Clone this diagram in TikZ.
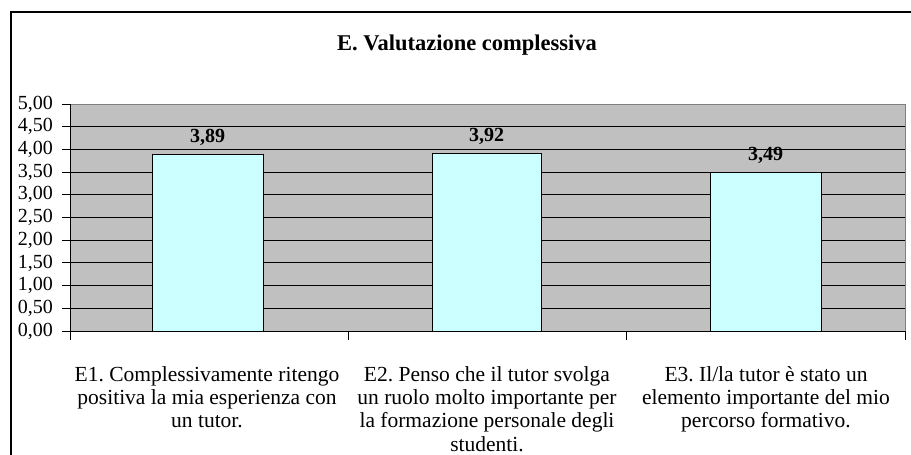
\documentclass[tikz,border=0pt]{standalone}
\usepackage{fontspec}
\setmainfont{Liberation Serif}
\frenchspacing
\definecolor{barcyan}{RGB}{204,255,255}
\definecolor{plotgray}{RGB}{192,192,192}
\definecolor{bordergray}{RGB}{128,128,128}
\begin{document}
\begin{tikzpicture}[x=1pt,y=-1pt,
  frame/.style={black, line width=2pt},
  bar/.style={draw=black, line width=0.9pt, fill=barcyan},
  gridline/.style={black, line width=1pt},
  axisline/.style={black, line width=1pt},
  ticklbl/.style={anchor=east, font=\fontsize{20}{22}\selectfont, inner sep=0pt},
  vallbl/.style={anchor=base, font=\bfseries\fontsize{20}{22}\selectfont, inner sep=0pt},
  catlbl/.style={anchor=north, align=center, font=\fontsize{21.5}{23.3}\selectfont, inner sep=0pt},
  titlelbl/.style={font=\bfseries\fontsize{22.5}{25}\selectfont, inner sep=0pt}
]
\useasboundingbox (0,0) rectangle (911,455);
\clip (0,0) rectangle (911,455);
\fill[white] (0,0) rectangle (911,455);
% chart frame
\draw[frame] (11,470) -- (11,12) -- (930,12);
% title
\node[titlelbl] (title) at (467,45) {E. Valutazione complessiva};
% plot area
\fill[plotgray] (70,104) rectangle (905,331);
\foreach \k in {1,...,9}
  \draw[gridline] (70,{331-\k*22.7}) -- (905,{331-\k*22.7});
\draw[bordergray, line width=1pt] (70,104) -- (905,104) -- (905,331);
% axes
\draw[axisline] (70,104) -- (70,340);
\draw[axisline] (70,331) -- (905,331);
\foreach \k/\t in {0/{0,00},1/{0,50},2/{1,00},3/{1,50},4/{2,00},5/{2,50},6/{3,00},7/{3,50},8/{4,00},9/{4,50},10/{5,00}}{
  \draw[axisline] (62,{331-\k*22.7}) -- (70,{331-\k*22.7});
  \node[ticklbl] (t\k) at (53,{331-\k*22.7}) {\t};
}
\foreach \x in {348,626,905}
  \draw[axisline] (\x,331) -- (\x,340);
% bars
\foreach \n/\a/\b/\v/\t in {1/152/263/3.89/{3,89},2/432/541/3.92/{3,92},3/710/821/3.49/{3,49}}{
  \draw[bar] (\a,331) rectangle (\b,{331-\v*45.4});
  \node[vallbl] (v\n) at ({(\a+\b)/2},{331-\v*45.4-12}) {\t};
}
% category labels
\node[catlbl] (c1) at (207,366) {E1. Complessivamente ritengo\\positiva la mia esperienza con\\un tutor.};
\node[catlbl] (c2) at (487,366) {E2. Penso che il tutor svolga\\un ruolo molto importante per\\la formazione personale degli\\studenti.};
\node[catlbl] (c3) at (766,366) {E3. Il/la tutor è stato un\\elemento importante del mio\\percorso formativo.};
\end{tikzpicture}
\end{document}
